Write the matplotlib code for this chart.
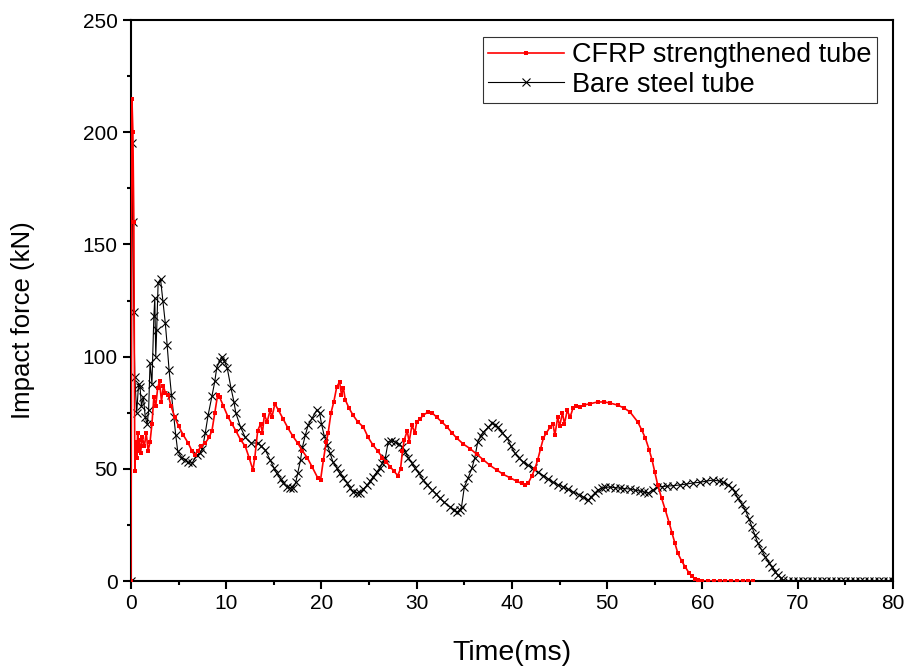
import matplotlib
matplotlib.use("Agg")
import matplotlib.pyplot as plt
from matplotlib.ticker import MultipleLocator

plt.rcParams['font.family'] = ['Liberation Sans', 'DejaVu Sans']

# CFRP strengthened tube: time (ms), impact force (kN)
cfrp_t = [0, 0.1, 0.2, 0.3, 0.4, 0.5, 0.6, 0.7, 0.8, 0.9, 1.0, 1.2, 1.4, 1.6, 1.8, 2.0,
          2.2, 2.4, 2.6, 2.8, 3.0, 3.2, 3.4, 3.6, 3.9, 4.2, 4.6, 5.0, 5.5, 6.0, 6.4, 6.7,
          7.0, 7.4, 7.8, 8.2, 8.5, 8.8, 9.1, 9.3, 9.7, 10.2, 10.6, 11.0, 11.5, 12.0, 12.4,
          12.8, 13.0, 13.3, 13.6, 13.8, 14.0, 14.3, 14.6, 14.8, 15.1, 15.5, 16.0, 16.5,
          17.0, 17.5, 18.0, 18.5, 19.0, 19.6, 19.9, 20.2, 20.5, 20.7, 21.0, 21.3, 21.6,
          21.9, 22.1, 22.3, 22.5, 22.9, 23.3, 23.8, 24.4, 24.9, 25.4, 25.9, 26.4, 26.8,
          27.2, 27.6, 28.0, 28.3, 28.5, 28.7, 29.0, 29.2, 29.5, 29.8, 30.0, 30.3, 30.7,
          31.2, 31.6, 32.1, 32.6, 33.2, 33.7, 34.2, 34.9, 35.6, 36.3, 37.0, 37.7, 38.4,
          39.1, 39.8, 40.5, 41.0, 41.4, 41.7, 42.1, 42.4, 42.7, 43.0, 43.3, 43.6, 44.0,
          44.3, 44.5, 44.8, 45.0, 45.3, 45.5, 45.8, 46.1, 46.4, 46.7, 47.1, 47.6, 48.2,
          49.0, 49.7, 50.3, 51.1, 51.8, 52.4, 53.2, 53.6, 54.0, 54.4, 54.7, 55.0, 55.3,
          55.7, 56.1, 56.5, 56.8, 57.1, 57.4, 57.8, 58.2, 58.6, 58.9, 59.2, 59.5, 60.0,
          60.6, 61.2, 61.8, 62.4, 63.0, 63.6, 64.2, 64.8, 65.3]
cfrp_f = [0, 215, 200, 160, 49, 62, 55, 66, 58, 63, 57, 64, 60, 66, 58, 62,
          70, 82, 78, 86, 89, 80, 87, 84, 83, 78, 73, 69, 65, 61.5, 58, 56,
          58, 60, 61.5, 64, 67, 75, 83, 82, 78, 73, 70, 67, 63, 60, 55,
          49.5, 55, 67, 70, 66, 74, 71, 76, 73, 79, 76, 72, 68,
          64.5, 61.5, 58, 55, 51, 46, 45, 54, 62, 66, 75, 80, 86.5,
          88.7, 83, 86, 80.7, 77, 74, 71, 68.6, 64, 60.6, 58, 55, 53,
          51, 49, 47, 50, 58, 63, 67, 62, 69.5, 66, 71, 72, 74,
          75.3, 75, 73, 71, 68.6, 66, 63.7, 61, 59, 56.5, 54, 51.5, 49.5,
          47.5, 46, 44.5, 43.5, 43, 43.6, 47, 50, 54, 59, 63.7, 66, 68.6,
          70, 65, 73, 69, 75, 70, 76, 73, 77, 78, 77.5, 78.5, 79,
          79.8, 79.8, 79.3, 78.4, 77, 75.3, 70.9, 67.5, 63.7, 58.5, 54, 48.5, 42.8,
          37, 31.6, 26, 21.4, 17, 12.5, 9, 6.2, 3.5, 2.2, 1, 0.4, 0,
          0, 0, 0, 0, 0, 0, 0, 0, 0]

# Bare steel tube: time (ms), impact force (kN)
bare_t = [0, 0.1, 0.2, 0.3, 0.4, 0.6, 0.8, 0.95, 1.1, 1.3, 1.5, 1.7, 1.85, 2.0, 2.2, 2.4,
          2.5, 2.6, 2.7, 2.85, 3.1, 3.35, 3.6, 3.8, 4.0, 4.25, 4.5, 4.7, 4.9, 5.3, 5.7,
          6.0, 6.4, 6.9, 7.2, 7.5, 7.8, 8.1, 8.5, 8.8, 9.0, 9.3, 9.55, 9.8, 10.1, 10.5,
          10.8, 11.0, 11.5, 12.0, 12.6, 13.3, 13.7, 14.1, 14.6, 15.0, 15.3, 15.7, 16.0,
          16.4, 16.7, 17.0, 17.3, 17.5, 17.8, 18.0, 18.3, 18.6, 19.0, 19.5, 19.8, 20.0,
          20.3, 20.6, 20.9, 21.2, 21.6, 21.9, 22.3, 22.7, 23.0, 23.3, 23.7, 24.0, 24.4,
          24.8, 25.1, 25.4, 25.8, 26.1, 26.4, 26.7, 27.0, 27.3, 27.7, 28.1, 28.5, 28.8,
          29.1, 29.5, 29.8, 30.2, 30.7, 31.1, 31.6, 32.0, 32.4, 32.9, 33.5, 33.9, 34.2,
          34.5, 34.7, 35.0, 35.4, 35.8, 36.1, 36.4, 36.7, 37.0, 37.5, 37.9, 38.2, 38.5,
          39.0, 39.5, 39.9, 40.3, 40.7, 41.2, 41.7, 42.2, 42.7, 43.3, 43.8, 44.3, 44.8,
          45.4, 45.9, 46.4, 47.0, 47.5, 48.0, 48.3, 48.7, 49.0, 49.4, 49.8, 50.3, 50.8,
          51.3, 51.8, 52.4, 52.9, 53.4, 53.9, 54.3, 54.8, 55.2, 55.8, 56.3, 56.9, 57.6,
          58.3, 59.0, 59.7, 60.4, 61.1, 61.7, 62.2, 62.7, 63.1, 63.4, 63.7, 64.1, 64.5,
          64.9, 65.2, 65.5, 65.8, 66.2, 66.6, 67.0, 67.3, 67.6, 67.9, 68.2, 68.5, 69.0,
          69.5, 70.0, 70.5, 71.0, 71.5, 72.0, 72.5, 73.0, 73.5, 74.0, 74.5, 75.0, 75.5,
          76.0, 76.5, 77.0, 77.5, 78.0, 78.5, 79.0, 79.5, 80.0]
bare_f = [0, 195, 160, 120, 91, 75, 88, 86.5, 78, 82, 73, 70, 76, 97, 88, 118,
          126, 100, 112, 133, 134.6, 125, 115, 105, 94, 83, 73, 65, 58, 55, 54,
          53, 52.5, 56, 57, 59, 66, 74, 82.4, 89, 95, 98, 100, 98, 95, 86,
          80, 75, 68.6, 64, 61.5, 61.5, 60, 58.4, 54, 50.5, 48, 45.5, 43.7,
          42, 41.4, 41.5, 44, 48, 54, 59.7, 65, 69.5, 72.5, 76.2, 75, 70,
          64.5, 60.6, 57, 53, 50.5, 48, 46, 43.7, 41.5, 39.7, 39.3, 39.2, 41,
          42.8, 44.5, 46.3, 48.5, 50.4, 52.5, 54.8, 62, 62.5, 62, 61, 59.7, 57.5,
          55, 52.5, 50.4, 48, 45, 43, 40.6, 39, 37, 35, 33, 31.5, 30.7,
          31.5, 33, 42, 46, 50.4, 55, 62, 64.5, 66.4, 68.5, 70.4, 69.5, 68.6,
          66, 63.7, 60, 57, 55, 53, 51.5, 50.4, 48.5, 47, 45.5, 44, 43,
          41.9, 40.8, 39.7, 38.5, 37.4, 36, 37.5, 39.2, 40.5, 41.4, 41.7, 41.9, 41.6,
          41.4, 41.2, 41, 40.5, 40.1, 39.6, 39.2, 40.5, 41.9, 42.1, 42.3, 42.5, 42.8,
          43.2, 43.7, 44, 44.5, 45, 44.6, 44, 42.8, 41.4, 39.5, 37, 34.5, 31.6,
          27.5, 24, 20.5, 17, 13.8, 10.7, 8.2, 6.2, 4.2, 2.7, 1.3, 0.4, 0,
          0, 0, 0, 0, 0, 0, 0, 0, 0, 0, 0, 0, 0,
          0, 0, 0, 0, 0, 0, 0, 0, 0]

fig = plt.figure(figsize=(9.09, 6.68), dpi=100)
ax = fig.add_axes([0.1441, 0.1302, 0.8383, 0.8398])

ax.plot(bare_t, bare_f, color='black', lw=0.8, marker='x', ms=5.5, mew=0.8,
        label='Bare steel tube', zorder=2)
ax.plot(cfrp_t, cfrp_f, color='red', lw=1.2, marker='s', ms=3.5, mew=0,
        label='CFRP strengthened tube', zorder=3)

ax.set_xlim(0, 80)
ax.set_ylim(0, 250)
ax.xaxis.set_major_locator(MultipleLocator(10))
ax.xaxis.set_minor_locator(MultipleLocator(5))
ax.yaxis.set_major_locator(MultipleLocator(50))
ax.yaxis.set_minor_locator(MultipleLocator(25))
ax.tick_params(which='both', direction='out', top=False, right=False,
               width=1.5, labelsize=15)
ax.tick_params(which='major', length=6)
ax.tick_params(which='minor', length=3)
for s in ax.spines.values():
    s.set_linewidth(1.5)

ax.set_xlabel('Time(ms)', fontsize=20.5)
ax.set_ylabel('Impact force (kN)', fontsize=18.5)
ax.xaxis.set_label_coords(0.5, -0.105)
ax.yaxis.set_label_coords(-0.126, 0.465)

handles, labels = ax.get_legend_handles_labels()
leg = ax.legend(handles[::-1], labels[::-1], loc='upper right',
                bbox_to_anchor=(0.979, 0.970), fontsize=19.5, frameon=True,
                fancybox=False, borderpad=0.2, labelspacing=0.12,
                handlelength=2.8, handletextpad=0.3, borderaxespad=0)
leg.get_frame().set_edgecolor('black')
leg.get_frame().set_linewidth(0.8)

fig.savefig('out.png', dpi=100)
